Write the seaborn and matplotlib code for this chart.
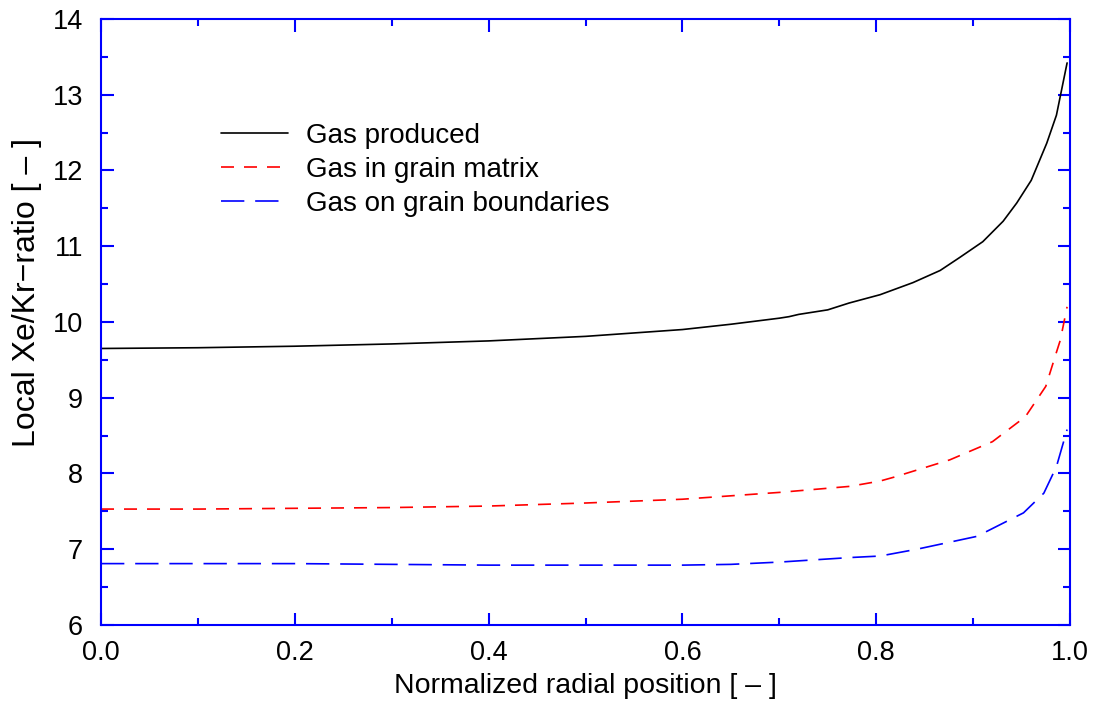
import numpy as np
import pandas as pd
import seaborn as sns
import matplotlib
matplotlib.use('Agg')
import matplotlib.pyplot as plt
from matplotlib.ticker import MultipleLocator, FormatStrFormatter

# values
x_produced = [0.0, 0.1, 0.2, 0.3, 0.4, 0.5, 0.6, 0.65, 0.7, 0.71, 0.72, 0.75, 0.772,
              0.804, 0.838, 0.866, 0.886, 0.910, 0.931, 0.945, 0.960, 0.976, 0.986, 0.997]
y_produced = [9.65, 9.66, 9.68, 9.71, 9.75, 9.81, 9.90, 9.97, 10.05, 10.07, 10.10, 10.16, 10.25,
              10.36, 10.52, 10.68, 10.85, 11.06, 11.33, 11.57, 11.87, 12.36, 12.73, 13.42]

x_matrix = [0.0, 0.1, 0.2, 0.3, 0.4, 0.5, 0.6, 0.7, 0.773, 0.804, 0.818, 0.876,
            0.920, 0.954, 0.975, 0.986, 0.990, 0.997]
y_matrix = [7.53, 7.53, 7.54, 7.55, 7.57, 7.61, 7.66, 7.75, 7.83, 7.90, 7.95, 8.18,
            8.42, 8.75, 9.15, 9.60, 9.76, 10.2]

x_boundary = [0.0, 0.1, 0.2, 0.3, 0.4, 0.5, 0.6, 0.65, 0.7, 0.773, 0.804, 0.842,
              0.904, 0.952, 0.973, 0.986, 0.997]
y_boundary = [6.81, 6.81, 6.81, 6.80, 6.79, 6.79, 6.79, 6.80, 6.83, 6.89, 6.91, 7.00,
              7.17, 7.48, 7.74, 8.09, 8.58]

labels = ['Gas produced', 'Gas in grain matrix', 'Gas on grain boundaries']

sns.set_style('ticks')
plt.rcParams['font.family'] = ['Liberation Sans', 'DejaVu Sans']
plt.rcParams['text.color'] = 'black'
plt.rcParams['axes.labelcolor'] = 'black'

fig = plt.figure(figsize=(10.98, 7.03), dpi=100)
ax = fig.add_axes([0.092, 0.111, 0.8825, 0.862])

lw = 1.2
sns.lineplot(x=x_produced, y=y_produced, color='black', lw=lw, ax=ax, label=labels[0])
sns.lineplot(x=x_matrix, y=y_matrix, color='#ff0000', lw=lw, ax=ax, label=labels[1],
             linestyle=(0, (7.8, 6)))
sns.lineplot(x=x_boundary, y=y_boundary, color='#0000ff', lw=lw, ax=ax, label=labels[2],
             linestyle=(0, (14, 6.5)))

ax.set_xlim(0, 1)
ax.set_ylim(6, 14)
ax.xaxis.set_major_locator(MultipleLocator(0.2))
ax.xaxis.set_minor_locator(MultipleLocator(0.1))
ax.yaxis.set_major_locator(MultipleLocator(1))
ax.yaxis.set_minor_locator(MultipleLocator(0.5))
ax.xaxis.set_major_formatter(FormatStrFormatter('%.1f'))

for s in ax.spines.values():
    s.set_color('#0000ff')
    s.set_linewidth(1.5)
ax.tick_params(which='both', direction='in', top=True, right=True, color='#0000ff',
               width=1.5, labelsize=19.5, labelcolor='black')
ax.tick_params(which='major', length=9)
ax.tick_params(which='minor', length=5)
ax.tick_params(axis='x', which='major', pad=11)
ax.tick_params(axis='y', which='major', pad=13)

ax.set_xlabel('Normalized radial position [ \u2013 ]', fontsize=20.5, labelpad=5)
ax.set_ylabel('Local Xe/Kr\u2212ratio [ \u2013 ]', fontsize=23)
ax.yaxis.set_label_coords(-0.061, 0.548)

ax.legend(loc='upper left', bbox_to_anchor=(0.124, 0.829), frameon=False, fontsize=20,
          handlelength=2.41, handletextpad=0.65, labelspacing=0.29, borderpad=0,
          borderaxespad=0)

fig.savefig('out.png', dpi=100)
